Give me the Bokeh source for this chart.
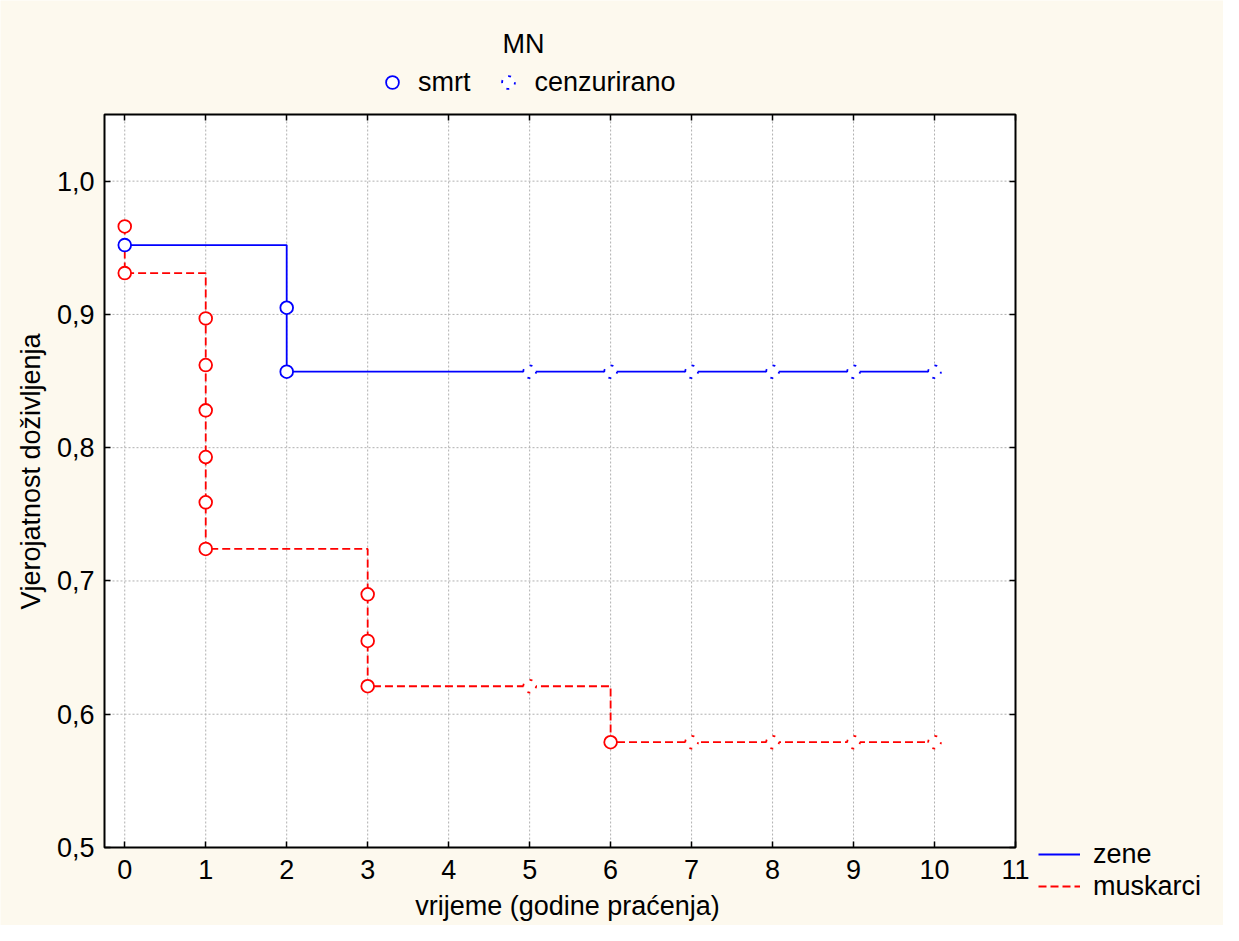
import math
from bokeh.plotting import figure
from bokeh.models import (Range1d, FixedTicker, CustomJSTickFormatter, LinearAxis,
                          Legend, LegendItem, Label, BoxAnnotation)
from bokeh.embed import file_html
from bokeh.resources import INLINE

# ---- data (Kaplan-Meier estimates) ----
zene_t = [0, 2, 2, 5, 6, 7, 8, 9, 10]
zene_s = [0.952, 0.905, 0.857, 0.857, 0.857, 0.857, 0.857, 0.857, 0.857]
zene_cens = [0, 0, 0, 1, 1, 1, 1, 1, 1]

musk_t = [0, 0, 1, 1, 1, 1, 1, 1, 3, 3, 3, 5, 6, 7, 8, 9, 10]
musk_s = [0.966, 0.931, 0.897, 0.862, 0.828, 0.793, 0.759, 0.724,
          0.690, 0.655, 0.621, 0.621, 0.579, 0.579, 0.579, 0.579, 0.579]
musk_cens = [0, 0, 0, 0, 0, 0, 0, 0, 0, 0, 0, 1, 0, 1, 1, 1, 1]

x_ticks = list(range(0, 12))
y_ticks = [0.5, 0.6, 0.7, 0.8, 0.9, 1.0]
x_lim = (-0.25, 11)
y_lim = (0.5, 1.05)

group_names = ["zene", "muskarci"]
event_names = ["smrt", "cenzurirano"]
legend_title = "MN"
x_title = "vrijeme (godine praćenja)"
y_title = "Vjerojatnost doživljenja"

# ---- layout (pixels) ----
W, H = 1223, 925
FL, FR, FT, FB = 104, 1015, 114, 847       # plot-area edges
SX = (FR - FL) / (x_lim[1] - x_lim[0])
SY = (FB - FT) / (y_lim[1] - y_lim[0])


def px2x(px):
    return x_lim[0] + (px - FL) / SX


def px2y(py):
    return y_lim[0] + (FB - py) / SY


# ---- style ----
FONT = "Liberation Sans"
FS = "27px"
BG = "#FDF9EE"
BLUE = "#0000FF"
RED = "#FF0000"
GRID = "#b0b0b0"

p = figure(width=W, height=H, min_border=0,
           x_range=Range1d(px2x(0), px2x(W)), y_range=Range1d(px2y(H), px2y(0)),
           x_axis_location=None, y_axis_location=None,
           output_backend="svg", toolbar_location=None,
           background_fill_color=BG, border_fill_color=BG,
           outline_line_color=None)
p.grid.visible = False

# white plot area
p.quad(left=[x_lim[0]], right=[x_lim[1]], bottom=[y_lim[0]], top=[y_lim[1]],
       fill_color="white", line_color=None)

# grid lines from the tick arrays
gx = [t for t in x_ticks if x_lim[0] < t < x_lim[1]]
gy = [t for t in y_ticks if y_lim[0] < t < y_lim[1]]
p.segment(x0=gx, y0=[y_lim[0]] * len(gx), x1=gx, y1=[y_lim[1]] * len(gx),
          line_color=GRID, line_dash="2 2", line_width=1)
p.segment(x0=[x_lim[0]] * len(gy), y0=gy, x1=[x_lim[1]] * len(gy), y1=gy,
          line_color=GRID, line_dash="2 2", line_width=1)

# ---- axes (fixed at the plot-area edges) ----
xfmt = CustomJSTickFormatter(code="return tick.toFixed(0);")
yfmt = CustomJSTickFormatter(code="return tick.toFixed(1).replace('.', ',');")
blank = CustomJSTickFormatter(code="return '';")


def make_axis(loc, ticks, bounds, fmt, standoff):
    return LinearAxis(fixed_location=loc, bounds=bounds,
                      ticker=FixedTicker(ticks=ticks), formatter=fmt,
                      axis_line_color=None,
                      major_tick_in=6, major_tick_out=0,
                      major_tick_line_width=1.5, major_tick_line_color="black",
                      minor_tick_line_color=None,
                      major_label_standoff=standoff,
                      major_label_text_font=FONT, major_label_text_font_size=FS,
                      major_label_text_color="black")


p.add_layout(make_axis(y_lim[0], x_ticks, x_lim, xfmt, 12), "below")
p.add_layout(make_axis(x_lim[0], y_ticks, y_lim, yfmt, 10), "left")
p.add_layout(make_axis(y_lim[1], x_ticks, x_lim, blank, 0), "above")
p.add_layout(make_axis(x_lim[1], y_ticks, y_lim, blank, 0), "right")

# ---- step curves ----
r_zene = p.step(x=zene_t, y=zene_s, mode="after", line_color=BLUE, line_width=1.8)
r_musk = p.step(x=musk_t, y=musk_s, mode="after", line_color=RED, line_width=1.8,
                line_dash="8 4")


def split(t, s, c, flag):
    return ([ti for ti, ci in zip(t, c) if ci == flag],
            [si for si, ci in zip(s, c) if ci == flag])


MS = 12.7
marks = {}
for t, s, c, col, key in [(zene_t, zene_s, zene_cens, BLUE, "z"),
                          (musk_t, musk_s, musk_cens, RED, "m")]:
    dx, dy = split(t, s, c, 0)
    cx, cy = split(t, s, c, 1)
    rd = p.scatter(dx, dy, marker="circle", size=MS, fill_color="white",
                   line_color=col, line_width=1.8)
    rc = p.scatter(cx, cy, marker="circle", size=MS, fill_color="white",
                   line_color=col, line_width=1.8, line_dash="3 7",
                   line_dash_offset=1)
    marks[key] = (rd, rc)

# plot-area border on top
p.add_layout(BoxAnnotation(left=x_lim[0], right=x_lim[1], bottom=y_lim[0], top=y_lim[1],
                           fill_alpha=0, fill_color=None, line_color="black",
                           line_alpha=1, line_width=2))

# ---- legends ----
leg_top = Legend(items=[LegendItem(label=event_names[0], renderers=[marks["z"][0]]),
                        LegendItem(label=event_names[1], renderers=[marks["z"][1]])],
                 orientation="horizontal", location=(376, H - 98),
                 glyph_width=32, glyph_height=32, label_height=32,
                 label_standoff=10, spacing=22, padding=0, margin=0,
                 border_line_color=None, background_fill_alpha=0,
                 label_text_font=FONT, label_text_font_size=FS,
                 label_text_color="black")
p.add_layout(leg_top)

leg_bot = Legend(items=[LegendItem(label=group_names[0], renderers=[r_zene]),
                        LegendItem(label=group_names[1], renderers=[r_musk])],
                 orientation="vertical", location=(1038, H - 902),
                 glyph_width=42, glyph_height=32, label_height=32,
                 label_standoff=13, spacing=0, padding=0, margin=0,
                 border_line_color=None, background_fill_alpha=0,
                 label_text_font=FONT, label_text_font_size=FS,
                 label_text_color="black")
p.add_layout(leg_bot)

# ---- texts ----
common = dict(text_font=FONT, text_font_size=FS, text_color="black",
              text_align="center", text_baseline="middle")
p.add_layout(Label(x=px2x(523), y=px2y(43), text=legend_title, **common))
p.add_layout(Label(x=px2x(567), y=px2y(905), text=x_title, **common))
p.add_layout(Label(x=px2x(30), y=px2y(471), text=y_title, angle=math.pi / 2, **common))

open("out.html", "w").write(file_html(p, INLINE))
